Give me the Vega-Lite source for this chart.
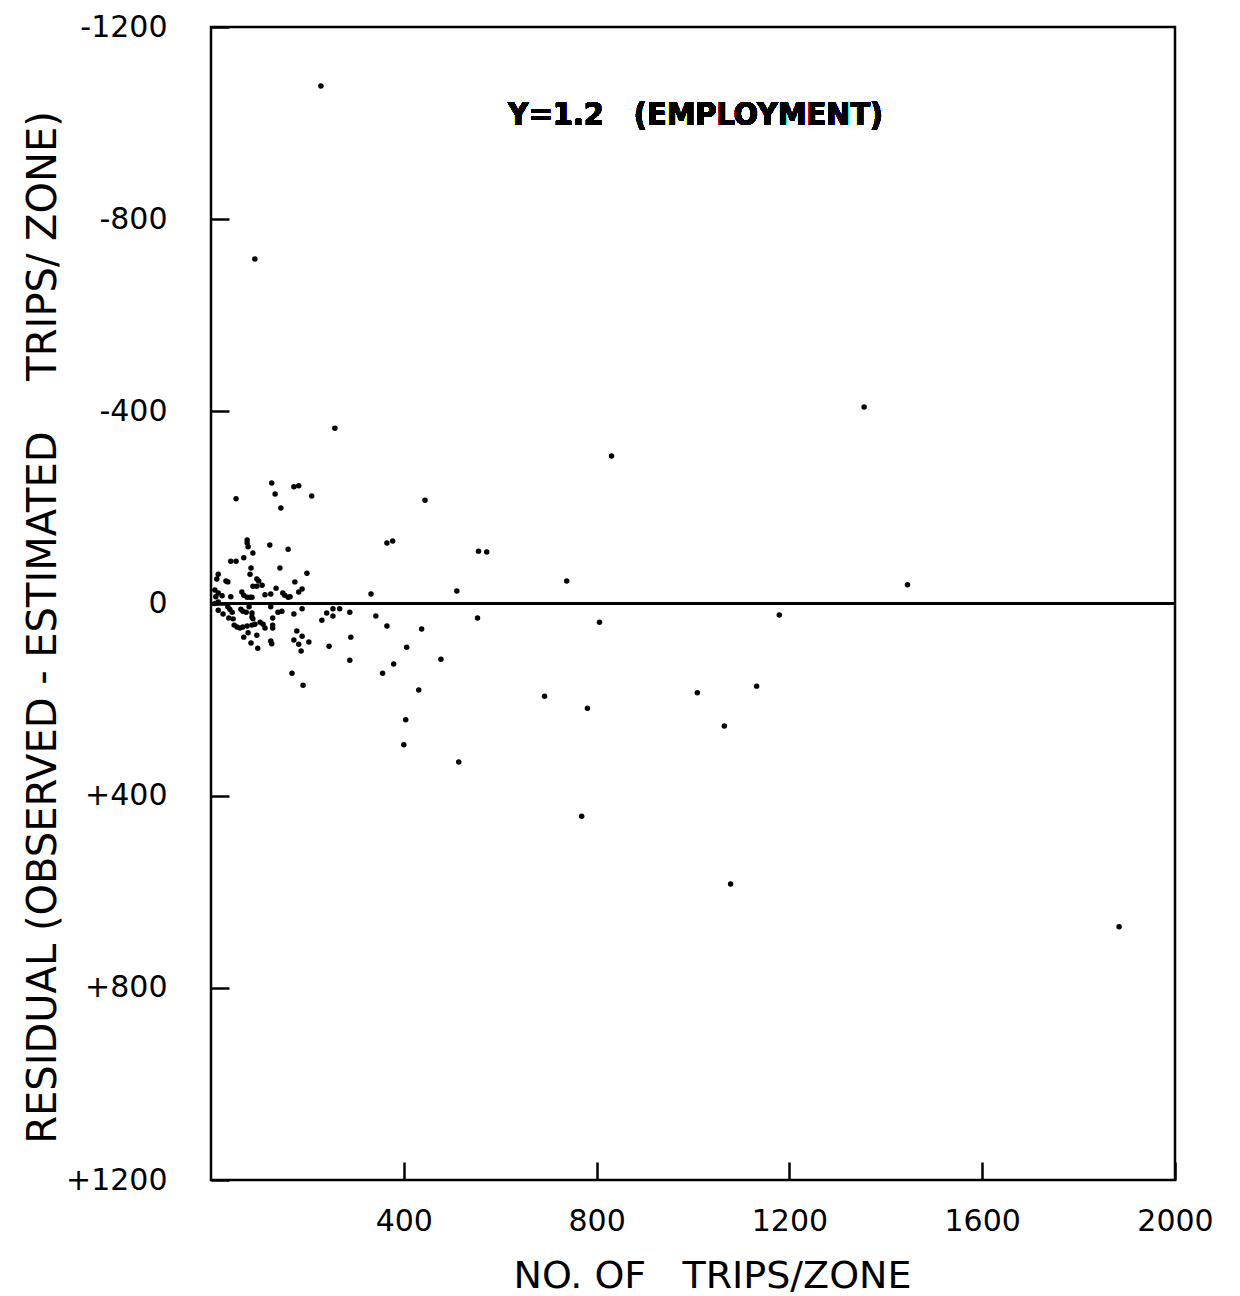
{
  "$schema": "https://vega.github.io/schema/vega-lite/v6.json",
  "width": 964,
  "height": 1153,
  "autosize": "none",
  "padding": {"left": 211, "top": 27, "right": 65, "bottom": 116},
  "background": "white",
  "config": {
    "view": {"stroke": "black", "strokeWidth": 2.5},
    "font": "DejaVu Sans",
    "axis": {"grid": false, "domain": false, "tickColor": "black", "tickWidth": 2.5, "labelColor": "black", "titleColor": "black", "labelFont": "DejaVu Sans", "titleFont": "DejaVu Sans", "labelFontWeight": "normal", "titleFontWeight": "normal"}
  },
  "data": {"values": [
    {"trips": 228, "residual": -1077}, {"trips": 91, "residual": -717}, {"trips": 257, "residual": -365},
    {"trips": 1355, "residual": -409}, {"trips": 831, "residual": -307}, {"trips": 444, "residual": -215},
    {"trips": 365, "residual": -126}, {"trips": 377, "residual": -130}, {"trips": 555, "residual": -109},
    {"trips": 572, "residual": -107}, {"trips": 738, "residual": -47}, {"trips": 1445, "residual": -39},
    {"trips": 510, "residual": -26}, {"trips": 332, "residual": -20}, {"trips": 553, "residual": 30},
    {"trips": 806, "residual": 39}, {"trips": 1179, "residual": 24}, {"trips": 692, "residual": 193},
    {"trips": 781, "residual": 218}, {"trips": 1009, "residual": 186}, {"trips": 1132, "residual": 172},
    {"trips": 1065, "residual": 255}, {"trips": 769, "residual": 443}, {"trips": 1078, "residual": 584},
    {"trips": 1884, "residual": 673}, {"trips": 514, "residual": 330}, {"trips": 400, "residual": 294},
    {"trips": 404, "residual": 242}, {"trips": 431, "residual": 180}, {"trips": 477, "residual": 116},
    {"trips": 437, "residual": 53}, {"trips": 406, "residual": 91}, {"trips": 379, "residual": 126},
    {"trips": 356, "residual": 145}, {"trips": 365, "residual": 47}, {"trips": 342, "residual": 26},
    {"trips": 288, "residual": 18}, {"trips": 290, "residual": 70}, {"trips": 288, "residual": 118},
    {"trips": 245, "residual": 89},
    {"trips": 126, "residual": -251}, {"trips": 172, "residual": -243}, {"trips": 182, "residual": -245},
    {"trips": 133, "residual": -228}, {"trips": 52, "residual": -218}, {"trips": 209, "residual": -224},
    {"trips": 145, "residual": -199}, {"trips": 75, "residual": -132}, {"trips": 75, "residual": -126},
    {"trips": 77, "residual": -118}, {"trips": 87, "residual": -105}, {"trips": 122, "residual": -122},
    {"trips": 160, "residual": -113}, {"trips": 41, "residual": -88}, {"trips": 52, "residual": -88},
    {"trips": 68, "residual": -95}, {"trips": 83, "residual": -74}, {"trips": 143, "residual": -74},
    {"trips": 199, "residual": -63}, {"trips": 81, "residual": -61}, {"trips": 15, "residual": -61},
    {"trips": 12, "residual": -51}, {"trips": 31, "residual": -47}, {"trips": 35, "residual": -45},
    {"trips": 95, "residual": -51}, {"trips": 99, "residual": -47}, {"trips": 87, "residual": -36},
    {"trips": 95, "residual": -36}, {"trips": 106, "residual": -38}, {"trips": 174, "residual": -45},
    {"trips": 135, "residual": -32}, {"trips": 189, "residual": -30}, {"trips": 182, "residual": -24},
    {"trips": 8, "residual": -28}, {"trips": 15, "residual": -22}, {"trips": 10, "residual": -14},
    {"trips": 23, "residual": -16}, {"trips": 41, "residual": -14}, {"trips": 64, "residual": -24},
    {"trips": 68, "residual": -17}, {"trips": 75, "residual": -13}, {"trips": 81, "residual": -13},
    {"trips": 85, "residual": -13}, {"trips": 112, "residual": -18}, {"trips": 124, "residual": -20},
    {"trips": 149, "residual": -22}, {"trips": 153, "residual": -17}, {"trips": 160, "residual": -13},
    {"trips": 164, "residual": -14},
    {"trips": 8, "residual": 0}, {"trips": 15, "residual": -3}, {"trips": 15, "residual": 14},
    {"trips": 25, "residual": 22}, {"trips": 35, "residual": 7}, {"trips": 39, "residual": 12},
    {"trips": 44, "residual": 18}, {"trips": 37, "residual": 30}, {"trips": 46, "residual": 32},
    {"trips": 62, "residual": 12}, {"trips": 66, "residual": 16}, {"trips": 73, "residual": 18},
    {"trips": 79, "residual": 7}, {"trips": 85, "residual": 20}, {"trips": 85, "residual": 28},
    {"trips": 87, "residual": 32}, {"trips": 124, "residual": 7}, {"trips": 139, "residual": 18},
    {"trips": 147, "residual": 16}, {"trips": 128, "residual": 30}, {"trips": 172, "residual": 22},
    {"trips": 189, "residual": 11}, {"trips": 48, "residual": 45}, {"trips": 54, "residual": 49},
    {"trips": 60, "residual": 51}, {"trips": 66, "residual": 49}, {"trips": 75, "residual": 47},
    {"trips": 85, "residual": 45}, {"trips": 91, "residual": 43}, {"trips": 102, "residual": 39},
    {"trips": 108, "residual": 43}, {"trips": 112, "residual": 51}, {"trips": 128, "residual": 45},
    {"trips": 128, "residual": 51}, {"trips": 77, "residual": 61}, {"trips": 95, "residual": 66},
    {"trips": 68, "residual": 70}, {"trips": 83, "residual": 82}, {"trips": 97, "residual": 93},
    {"trips": 124, "residual": 78}, {"trips": 126, "residual": 84}, {"trips": 178, "residual": 57},
    {"trips": 189, "residual": 68}, {"trips": 172, "residual": 76}, {"trips": 182, "residual": 85},
    {"trips": 203, "residual": 80}, {"trips": 187, "residual": 99}, {"trips": 230, "residual": 35},
    {"trips": 240, "residual": 20}, {"trips": 253, "residual": 11}, {"trips": 267, "residual": 11},
    {"trips": 253, "residual": 26}, {"trips": 191, "residual": 170}, {"trips": 168, "residual": 145}
  ]},
  "layer": [
    {
      "mark": {"type": "circle", "color": "black", "opacity": 1, "size": 30},
      "encoding": {
        "x": {
          "field": "trips", "type": "quantitative",
          "scale": {"domain": [0, 2000], "nice": false, "zero": false},
          "axis": {
            "values": [400, 800, 1200, 1600, 2000],
            "format": "d",
            "tickSize": -18,
            "labelPadding": 44,
            "labelFontSize": 30,
            "labelFlush": false,
            "title": "NO. OF\u00a0\u00a0 TRIPS/ZONE",
            "titleFontSize": 38,
            "titleX": 501,
            "titleY": 107,
            "titleAnchor": "middle",
            "titleAlign": "center",
            "titleBaseline": "alphabetic"
          }
        },
        "y": {
          "field": "residual", "type": "quantitative",
          "scale": {"domain": [-1200, 1200], "reverse": true, "nice": false},
          "axis": {
            "values": [-1200, -800, -400, 0, 400, 800, 1200],
            "labelExpr": "datum.value > 0 ? '+' + datum.value : '' + datum.value",
            "tickSize": -18,
            "labelPadding": 62,
            "labelFontSize": 30,
            "labelFlush": false,
            "title": "RESIDUAL (OBSERVED\u00a0-\u00a0ESTIMATED\u00a0\u00a0\u00a0 TRIPS/ ZONE)",
            "titleFontSize": 40,
            "titleAngle": -90,
            "titleX": -156,
            "titleY": 600,
            "titleAlign": "center",
            "titleBaseline": "alphabetic"
          }
        }
      }
    },
    {
      "mark": {"type": "rule", "color": "black", "strokeWidth": 3},
      "encoding": {
        "y": {"datum": 0, "type": "quantitative"}
      }
    },
    {
      "mark": {"type": "text", "fontSize": 32, "font": "DejaVu Sans Condensed", "fontWeight": "bold", "color": "black", "align": "center", "baseline": "middle"},
      "encoding": {
        "x": {"datum": 1005, "type": "quantitative"},
        "y": {"datum": -1017, "type": "quantitative"},
        "text": {"value": "Y=1.2\u00a0\u00a0 (EMPLOYMENT)"}
      }
    }
  ]
}
